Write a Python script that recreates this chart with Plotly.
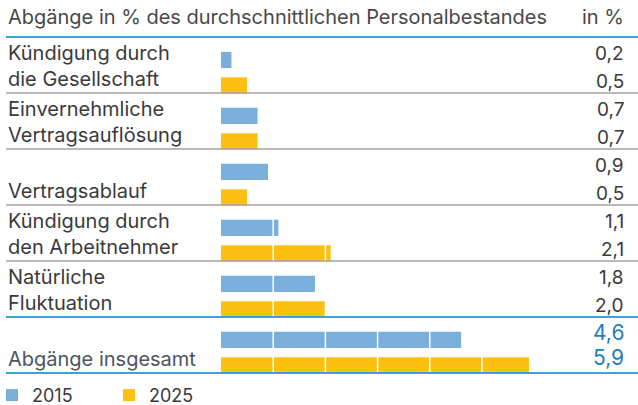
import plotly.graph_objects as go

# data
categories = ["Kündigung durch<br>die Gesellschaft",
              "Einvernehmliche<br>Vertragsauflösung",
              "<br>Vertragsablauf",
              "Kündigung durch<br>den Arbeitnehmer",
              "Natürliche<br>Fluktuation",
              "<br>Abgänge insgesamt"]
years = ["2015", "2025"]
v2015 = [0.2, 0.7, 0.9, 1.1, 1.8, 4.6]
v2025 = [0.5, 0.7, 0.5, 2.1, 2.0, 5.9]
title = "Abgänge in % des durchschnittlichen Personalbestandes"
unit = "in %"

W, H = 638, 405
BLUE, ORANGE = "#7aafdc", "#fdc010"
LINE_BLUE, GREY = "#36a3d9", "#a3a3a3"
TXT = "#3a3a3a"
FONT = "Inter"

x0_px, px_per = 221, 52.2     # where 0 sits and pixels per 1 %
top_px, row_px = 37, 56       # first rule and row height


def fmt(v):
    return f"{v:.1f}".replace(".", ",")


rows = list(range(len(categories)))
fig = go.Figure()
fig.add_trace(go.Bar(x=v2015, y=[r + 0.41 for r in rows], orientation="h",
                     width=0.29, marker=dict(color=BLUE, line_width=0), name=years[0]))
fig.add_trace(go.Bar(x=v2025, y=[r + 0.865 for r in rows], orientation="h",
                     width=0.29, marker=dict(color=ORANGE, line_width=0), name=years[1]))

shapes = []
# white split lines every 1 %
for g in range(1, 7):
    shapes.append(dict(type="line", xref="x", yref="y", x0=g, x1=g, y0=0, y1=6,
                       line=dict(color="white", width=1.5), layer="above"))
# row rules
for r in range(len(categories) + 1):
    blue = r in (0, 5, 6)
    shapes.append(dict(type="line", xref="paper", yref="y", x0=6 / W, x1=1, y0=r, y1=r,
                       line=dict(color=LINE_BLUE if blue else GREY, width=2 if blue else 1.6),
                       layer="above"))

ann = [dict(text=title, x=6 / W, y=-0.36, xref="paper", yref="y", xanchor="left",
            showarrow=False, font=dict(family=FONT, size=20, color="#484848")),
       dict(text=unit, x=626 / W, y=-0.36, xref="paper", yref="y", xanchor="right",
            showarrow=False, font=dict(family=FONT, size=20, color="#484848"))]
for r, cat in enumerate(categories):
    total = r == len(categories) - 1
    for k, line in enumerate(cat.split("<br>")):
        if line:
            ann.append(dict(text=line, x=6 / W, y=r + (0.285 if k == 0 else 0.755),
                            xref="paper", yref="y", xanchor="left", showarrow=False,
                            font=dict(family=FONT, size=20,
                                      color="#4b5560" if total else TXT)))
    for k, v in enumerate([v2015[r], v2025[r]]):
        ann.append(dict(text=fmt(v), x=626 / W, y=r + (0.27 + k * 0.46 if total else 0.29 + k * 0.5),
                        xref="paper", yref="y", xanchor="right", showarrow=False,
                        font=dict(family=FONT, size=21 if total else 19,
                                  color="#1a7dbf" if total else TXT)))

fig.update_layout(
    width=W, height=H, margin=dict(l=0, r=0, t=0, b=0, autoexpand=False),
    plot_bgcolor="white", paper_bgcolor="white", barmode="overlay",
    shapes=shapes, annotations=ann,
    xaxis=dict(range=[-x0_px / px_per, (W - x0_px) / px_per], visible=False, fixedrange=True),
    yaxis=dict(range=[(H - top_px) / row_px, -top_px / row_px], visible=False, fixedrange=True),
    legend=dict(orientation="h", x=-0.0125, y=-0.022, xanchor="left", yanchor="bottom",
                entrywidth=72, font=dict(family=FONT, size=18, color=TXT),
                bgcolor="rgba(0,0,0,0)", traceorder="normal"),
    showlegend=True,
)

# drop the browser's default page margin so the figure sits at 0,0
fig.write_html("out.html", config={"displayModeBar": False},
               post_script="document.body.style.margin='0';")
